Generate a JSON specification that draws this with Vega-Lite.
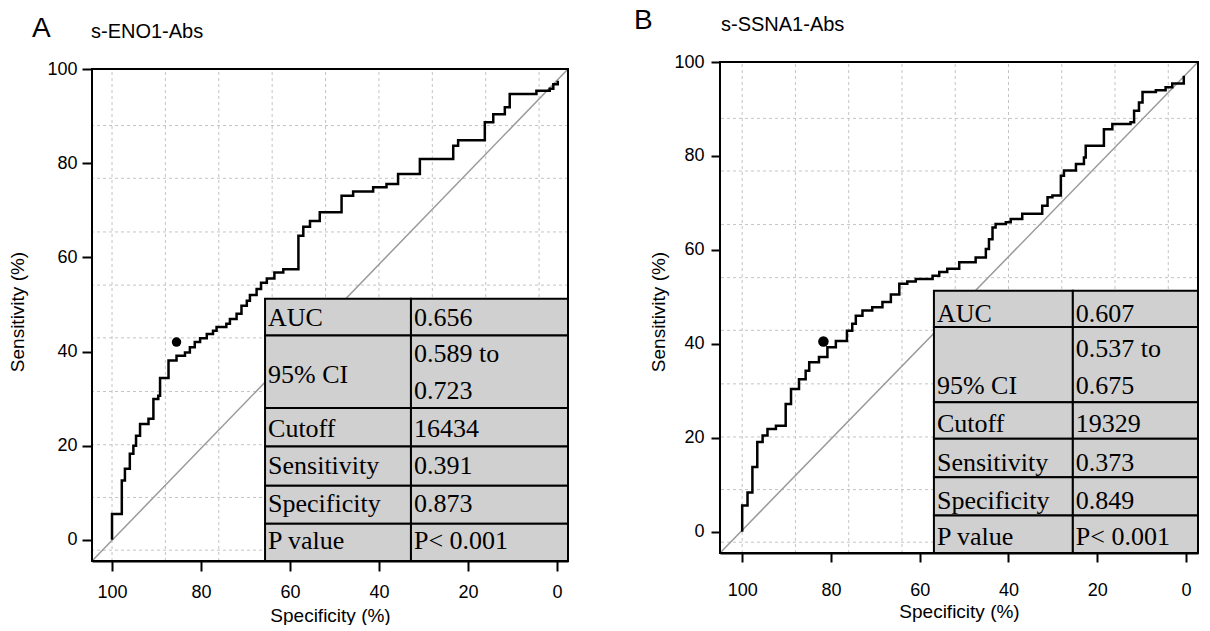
{
  "$schema": "https://vega.github.io/schema/vega-lite/v6.json",
  "background": "white",
  "padding": {"left": 8, "top": 7, "right": 0, "bottom": 0},
  "spacing": 62,
  "datasets": {
    "one": [{"k": 1}],
    "gx": [{"v": 100}, {"v": 88}, {"v": 76}, {"v": 64}, {"v": 52}, {"v": 40}, {"v": 28}, {"v": 16}, {"v": 4}],
    "gy": [{"v": 88}, {"v": 76.8}, {"v": 65.4}, {"v": 54.1}, {"v": 42.9}, {"v": 31.5}, {"v": 20.2}, {"v": 9}, {"v": -2.2}],
    "diagA": [{"x": 104.5, "y": -4.5}, {"x": -2.5, "y": 100}],
    "diagB": [{"x": 105, "y": -4.5}, {"x": -2.7, "y": 100}],
    "rocA": [
      {"x": 100, "y": 0}, {"x": 97.8, "y": 5.5}, {"x": 97.1, "y": 12.6}, {"x": 96.0, "y": 15.1},
      {"x": 95.2, "y": 18.3}, {"x": 94.6, "y": 20.0}, {"x": 93.7, "y": 22.1}, {"x": 91.8, "y": 24.6},
      {"x": 90.7, "y": 25.7}, {"x": 89.6, "y": 29.9}, {"x": 89.2, "y": 30.6}, {"x": 87.3, "y": 34.4},
      {"x": 85.5, "y": 38.1}, {"x": 83.6, "y": 39.1}, {"x": 82.5, "y": 39.8}, {"x": 81.4, "y": 40.9},
      {"x": 80.2, "y": 42.0}, {"x": 78.7, "y": 42.8}, {"x": 77.3, "y": 43.7}, {"x": 76.5, "y": 44.4},
      {"x": 74.3, "y": 45.2}, {"x": 73.5, "y": 45.9}, {"x": 72.0, "y": 46.9}, {"x": 70.9, "y": 48.0},
      {"x": 69.7, "y": 49.7}, {"x": 69.0, "y": 50.8}, {"x": 67.5, "y": 52.0}, {"x": 66.5, "y": 53.3},
      {"x": 65.2, "y": 54.6}, {"x": 63.5, "y": 55.5}, {"x": 61.5, "y": 56.8}, {"x": 58.1, "y": 57.5},
      {"x": 57.0, "y": 64.6}, {"x": 55.5, "y": 66.5}, {"x": 53.3, "y": 67.7}, {"x": 51.8, "y": 69.6},
      {"x": 48.4, "y": 69.6}, {"x": 45.8, "y": 73.1}, {"x": 41.3, "y": 74.0}, {"x": 38.3, "y": 74.9},
      {"x": 35.7, "y": 75.6}, {"x": 30.8, "y": 77.7}, {"x": 23.3, "y": 80.9}, {"x": 22.2, "y": 83.7},
      {"x": 16.2, "y": 84.9}, {"x": 14.3, "y": 88.7}, {"x": 11.7, "y": 90.4}, {"x": 10.6, "y": 91.9},
      {"x": 4.6, "y": 94.7}, {"x": 1.6, "y": 95.4}, {"x": 0.8, "y": 95.8}, {"x": -0.2, "y": 96.8},
      {"x": -0.2, "y": 97.5}
    ],
    "rocB": [
      {"x": 100, "y": 0}, {"x": 98.8, "y": 5.6}, {"x": 97.7, "y": 8.4}, {"x": 96.6, "y": 13.8},
      {"x": 95.4, "y": 19.1}, {"x": 94.3, "y": 20.5}, {"x": 92.4, "y": 21.9}, {"x": 90.2, "y": 22.6},
      {"x": 89.0, "y": 27.2}, {"x": 87.2, "y": 30.4}, {"x": 85.7, "y": 32.5}, {"x": 84.9, "y": 34.3},
      {"x": 82.7, "y": 36.1}, {"x": 80.8, "y": 37.2}, {"x": 78.9, "y": 39.3}, {"x": 76.4, "y": 40.6},
      {"x": 75.2, "y": 42.8}, {"x": 74.4, "y": 44.3}, {"x": 72.9, "y": 46.0}, {"x": 70.7, "y": 47.1},
      {"x": 68.4, "y": 47.8}, {"x": 66.5, "y": 48.9}, {"x": 64.6, "y": 50.5}, {"x": 62.8, "y": 52.8},
      {"x": 60.9, "y": 53.3}, {"x": 57.1, "y": 53.8}, {"x": 55.6, "y": 54.5}, {"x": 53.8, "y": 55.3},
      {"x": 52.6, "y": 56.0}, {"x": 51.1, "y": 56.0}, {"x": 47.4, "y": 57.4}, {"x": 45.1, "y": 58.4},
      {"x": 44.4, "y": 60.2}, {"x": 43.6, "y": 62.3}, {"x": 42.9, "y": 64.8}, {"x": 40.6, "y": 65.5},
      {"x": 39.5, "y": 65.9}, {"x": 36.9, "y": 66.6}, {"x": 32.4, "y": 67.7}, {"x": 31.2, "y": 69.4},
      {"x": 30.1, "y": 71.2}, {"x": 28.2, "y": 71.6}, {"x": 27.5, "y": 75.8}, {"x": 24.8, "y": 76.9},
      {"x": 23.0, "y": 78.3}, {"x": 22.6, "y": 79.7}, {"x": 18.5, "y": 82.2}, {"x": 16.6, "y": 85.7},
      {"x": 12.5, "y": 86.8}, {"x": 11.7, "y": 87.2}, {"x": 10.6, "y": 89.6}, {"x": 9.8, "y": 91.4},
      {"x": 6.8, "y": 93.6}, {"x": 4.6, "y": 94.0}, {"x": 3.1, "y": 94.6}, {"x": 0.5, "y": 95.4},
      {"x": 0.5, "y": 97.1}
    ],
    "dotA": [{"x": 85.5, "y": 42.0}],
    "dotB": [{"x": 81.7, "y": 40.5}],
    "tabA": [
      {"row": "AUC", "top": 51.2, "bottom": 43.4},
      {"row": "95% CI", "top": 43.4, "bottom": 28.0},
      {"row": "Cutoff", "top": 28.0, "bottom": 19.8},
      {"row": "Sensitivity", "top": 19.8, "bottom": 11.5},
      {"row": "Specificity", "top": 11.5, "bottom": 3.4},
      {"row": "P value", "top": 3.4, "bottom": -4.5}
    ],
    "tabB": [
      {"row": "AUC", "top": 51.3, "bottom": 43.6},
      {"row": "95% CI", "top": 43.6, "bottom": 27.6},
      {"row": "Cutoff", "top": 27.6, "bottom": 19.8},
      {"row": "Sensitivity", "top": 19.8, "bottom": 11.6},
      {"row": "Specificity", "top": 11.6, "bottom": 3.5},
      {"row": "P value", "top": 3.5, "bottom": -4.5}
    ],
    "txtA": [
      {"col": "k", "t": "AUC", "ty": 45.4},
      {"col": "k", "t": "95% CI", "ty": 33.4},
      {"col": "k", "t": "Cutoff", "ty": 21.8},
      {"col": "k", "t": "Sensitivity", "ty": 14.0},
      {"col": "k", "t": "Specificity", "ty": 5.9},
      {"col": "k", "t": "P value", "ty": -1.9},
      {"col": "v", "t": "0.656", "ty": 45.4},
      {"col": "v", "t": "0.589 to", "ty": 37.8},
      {"col": "v", "t": "0.723", "ty": 29.9},
      {"col": "v", "t": "16434", "ty": 21.8},
      {"col": "v", "t": "0.391", "ty": 14.0},
      {"col": "v", "t": "0.873", "ty": 5.9},
      {"col": "v", "t": "P< 0.001", "ty": -1.9}
    ],
    "txtB": [
      {"col": "k", "t": "AUC", "ty": 44.7},
      {"col": "k", "t": "95% CI", "ty": 29.4},
      {"col": "k", "t": "Cutoff", "ty": 21.2},
      {"col": "k", "t": "Sensitivity", "ty": 13.0},
      {"col": "k", "t": "Specificity", "ty": 4.9},
      {"col": "k", "t": "P value", "ty": -2.9},
      {"col": "v", "t": "0.607", "ty": 44.7},
      {"col": "v", "t": "0.537 to", "ty": 37.2},
      {"col": "v", "t": "0.675", "ty": 29.4},
      {"col": "v", "t": "19329", "ty": 21.2},
      {"col": "v", "t": "0.373", "ty": 13.0},
      {"col": "v", "t": "0.849", "ty": 4.9},
      {"col": "v", "t": "P< 0.001", "ty": -2.9}
    ]
  },
  "hconcat": [
    {
      "title": {"text": "A", "anchor": "start", "frame": "bounds", "fontSize": 28, "baseline": "alphabetic", "offset": -43, "dx": 23},
      "vconcat": [
        {
          "width": 476,
          "height": 499,
          "title": {"text": "s-ENO1-Abs", "anchor": "start", "frame": "group", "fontSize": 20, "baseline": "alphabetic", "offset": 2, "dx": -1},
          "layer": [
            {
              "data": {"name": "gx"},
              "mark": {"type": "rule", "stroke": "#c4c4c4", "strokeWidth": 1, "strokeDash": [3, 3]},
              "encoding": {
                "x": {"field": "v", "type": "quantitative", "scale": {"domain": [-2.5, 104.5], "reverse": true, "nice": false, "zero": false},
                  "axis": {"values": [100, 80, 60, 40, 20, 0], "title": "Specificity (%)", "tickSize": 10, "labelPadding": 12, "titlePadding": 5}},
                "y": {"datum": -4.5, "type": "quantitative", "scale": {"domain": [-4.5, 101.5], "nice": false, "zero": false},
                  "axis": {"values": [0, 20, 40, 60, 80, 100], "title": "Sensitivity (%)", "domain": false, "tickSize": 10, "labelPadding": 5, "titlePadding": 19}},
                "y2": {"datum": 100}
              }
            },
            {
              "data": {"name": "gy"},
              "mark": {"type": "rule", "stroke": "#c4c4c4", "strokeWidth": 1, "strokeDash": [3, 3]},
              "encoding": {
                "y": {"field": "v", "type": "quantitative"}
              }
            },
            {
              "data": {"name": "diagA"},
              "mark": {"type": "line", "stroke": "#9a9a9a", "strokeWidth": 1.5},
              "encoding": {
                "x": {"field": "x", "type": "quantitative"},
                "y": {"field": "y", "type": "quantitative"}
              }
            },
            {
              "data": {"name": "rocA"},
              "mark": {"type": "line", "stroke": "black", "strokeWidth": 2.5, "interpolate": "step-before"},
              "encoding": {
                "x": {"field": "x", "type": "quantitative"},
                "y": {"field": "y", "type": "quantitative"},
                "order": {"value": null}
              }
            },
            {
              "data": {"name": "dotA"},
              "mark": {"type": "point", "filled": true, "fill": "black", "size": 90, "opacity": 1},
              "encoding": {
                "x": {"field": "x", "type": "quantitative"},
                "y": {"field": "y", "type": "quantitative"}
              }
            },
            {
              "data": {"name": "tabA"},
              "mark": {"type": "rect", "fill": "#d0d0d0", "stroke": "black", "strokeWidth": 2},
              "encoding": {
                "x": {"datum": 65.6, "type": "quantitative"},
                "x2": {"datum": 32.8},
                "y": {"field": "top", "type": "quantitative"},
                "y2": {"field": "bottom"}
              }
            },
            {
              "data": {"name": "tabA"},
              "mark": {"type": "rect", "fill": "#d0d0d0", "stroke": "black", "strokeWidth": 2},
              "encoding": {
                "x": {"datum": 32.8, "type": "quantitative"},
                "x2": {"datum": -2.5},
                "y": {"field": "top", "type": "quantitative"},
                "y2": {"field": "bottom"}
              }
            },
            {
              "data": {"name": "txtA"},
              "transform": [{"filter": "datum.col === 'k'"}],
              "mark": {"type": "text", "align": "left", "baseline": "alphabetic", "dx": 3, "font": "Liberation Serif", "fontSize": 26, "color": "black"},
              "encoding": {
                "x": {"datum": 65.6, "type": "quantitative"},
                "y": {"field": "ty", "type": "quantitative"},
                "text": {"field": "t"}
              }
            },
            {
              "data": {"name": "txtA"},
              "transform": [{"filter": "datum.col === 'v'"}],
              "mark": {"type": "text", "align": "left", "baseline": "alphabetic", "dx": 3, "font": "Liberation Serif", "fontSize": 26, "color": "black"},
              "encoding": {
                "x": {"datum": 32.8, "type": "quantitative"},
                "y": {"field": "ty", "type": "quantitative"},
                "text": {"field": "t"}
              }
            },
            {
              "data": {"name": "one"},
              "mark": {"type": "rect", "fill": null, "fillOpacity": 0, "stroke": "black", "strokeWidth": 2},
              "encoding": {
                "x": {"datum": 104.5, "type": "quantitative"},
                "x2": {"datum": -2.5},
                "y": {"datum": -4.5, "type": "quantitative"},
                "y2": {"datum": 100}
              }
            }
          ]
        }
      ]
    },
    {
      "title": {"text": "B", "anchor": "start", "frame": "bounds", "fontSize": 28, "baseline": "alphabetic", "offset": -42, "dx": -16},
      "vconcat": [
        {
          "width": 478,
          "height": 499,
          "title": {"text": "s-SSNA1-Abs", "anchor": "start", "frame": "group", "fontSize": 20, "baseline": "alphabetic", "offset": 2, "dx": 1},
          "layer": [
            {
              "data": {"name": "gx"},
              "mark": {"type": "rule", "stroke": "#c4c4c4", "strokeWidth": 1, "strokeDash": [3, 3]},
              "encoding": {
                "x": {"field": "v", "type": "quantitative", "scale": {"domain": [-2.7, 105], "reverse": true, "nice": false, "zero": false},
                  "axis": {"values": [100, 80, 60, 40, 20, 0], "title": "Specificity (%)", "offset": -8, "tickSize": 9, "labelPadding": 19, "titlePadding": 3}},
                "y": {"datum": -4.5, "type": "quantitative", "scale": {"domain": [-6.2, 100], "nice": false, "zero": false},
                  "axis": {"values": [0, 20, 40, 60, 80, 100], "title": "Sensitivity (%)", "domain": false, "tickSize": 9, "labelPadding": 7, "titlePadding": 5}},
                "y2": {"datum": 100}
              }
            },
            {
              "data": {"name": "gy"},
              "mark": {"type": "rule", "stroke": "#c4c4c4", "strokeWidth": 1, "strokeDash": [3, 3]},
              "encoding": {
                "y": {"field": "v", "type": "quantitative"}
              }
            },
            {
              "data": {"name": "diagB"},
              "mark": {"type": "line", "stroke": "#9a9a9a", "strokeWidth": 1.5},
              "encoding": {
                "x": {"field": "x", "type": "quantitative"},
                "y": {"field": "y", "type": "quantitative"}
              }
            },
            {
              "data": {"name": "rocB"},
              "mark": {"type": "line", "stroke": "black", "strokeWidth": 2.5, "interpolate": "step-before"},
              "encoding": {
                "x": {"field": "x", "type": "quantitative"},
                "y": {"field": "y", "type": "quantitative"},
                "order": {"value": null}
              }
            },
            {
              "data": {"name": "dotB"},
              "mark": {"type": "point", "filled": true, "fill": "black", "size": 110, "opacity": 1},
              "encoding": {
                "x": {"field": "x", "type": "quantitative"},
                "y": {"field": "y", "type": "quantitative"}
              }
            },
            {
              "data": {"name": "tabB"},
              "mark": {"type": "rect", "fill": "#d0d0d0", "stroke": "black", "strokeWidth": 2},
              "encoding": {
                "x": {"datum": 56.8, "type": "quantitative"},
                "x2": {"datum": 25.5},
                "y": {"field": "top", "type": "quantitative"},
                "y2": {"field": "bottom"}
              }
            },
            {
              "data": {"name": "tabB"},
              "mark": {"type": "rect", "fill": "#d0d0d0", "stroke": "black", "strokeWidth": 2},
              "encoding": {
                "x": {"datum": 25.5, "type": "quantitative"},
                "x2": {"datum": -2.7},
                "y": {"field": "top", "type": "quantitative"},
                "y2": {"field": "bottom"}
              }
            },
            {
              "data": {"name": "txtB"},
              "transform": [{"filter": "datum.col === 'k'"}],
              "mark": {"type": "text", "align": "left", "baseline": "alphabetic", "dx": 3, "font": "Liberation Serif", "fontSize": 26, "color": "black"},
              "encoding": {
                "x": {"datum": 56.8, "type": "quantitative"},
                "y": {"field": "ty", "type": "quantitative"},
                "text": {"field": "t"}
              }
            },
            {
              "data": {"name": "txtB"},
              "transform": [{"filter": "datum.col === 'v'"}],
              "mark": {"type": "text", "align": "left", "baseline": "alphabetic", "dx": 3, "font": "Liberation Serif", "fontSize": 26, "color": "black"},
              "encoding": {
                "x": {"datum": 25.5, "type": "quantitative"},
                "y": {"field": "ty", "type": "quantitative"},
                "text": {"field": "t"}
              }
            },
            {
              "data": {"name": "one"},
              "mark": {"type": "rect", "fill": null, "fillOpacity": 0, "stroke": "black", "strokeWidth": 2},
              "encoding": {
                "x": {"datum": 105, "type": "quantitative"},
                "x2": {"datum": -2.7},
                "y": {"datum": -4.5, "type": "quantitative"},
                "y2": {"datum": 100}
              }
            }
          ]
        }
      ]
    }
  ],
  "config": {
    "view": {"stroke": null},
    "axis": {
      "domainColor": "black", "domainWidth": 2, "tickColor": "black", "tickWidth": 2,
      "labelFont": "Liberation Sans", "labelFontSize": 18, "labelColor": "black",
      "titleFont": "Liberation Sans", "titleFontSize": 19, "titleFontWeight": "normal", "titleColor": "black",
      "grid": false, "labelFlush": false, "labelOverlap": false
    },
    "title": {"font": "Liberation Sans", "fontWeight": "normal", "color": "black"}
  }
}
